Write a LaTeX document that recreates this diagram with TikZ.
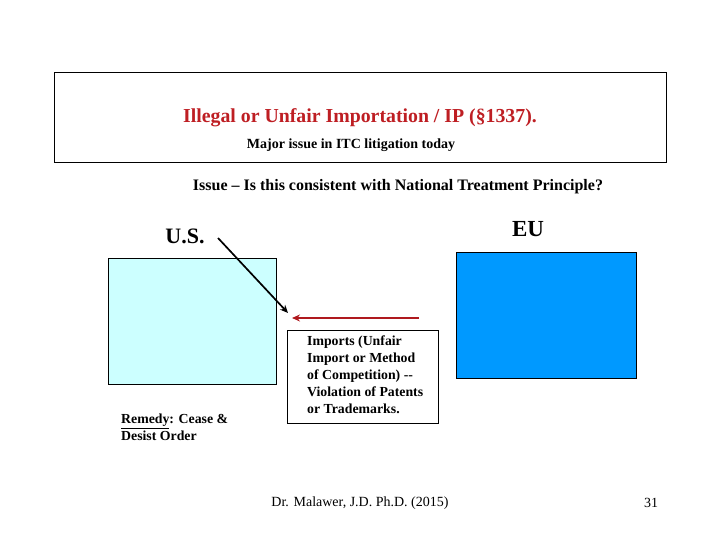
\documentclass[tikz,border=0pt]{standalone}
\usepackage{fontspec}
\setmainfont{Liberation Serif}
\usetikzlibrary{arrows.meta}
\definecolor{titlered}{RGB}{190,30,35}
\definecolor{arrred}{RGB}{175,25,30}
\definecolor{lightcyan}{RGB}{204,255,255}
\definecolor{eublue}{RGB}{0,153,255}
\tikzset{
  frame/.style={draw=black, line width=0.8pt},
  txt/.style={inner sep=0pt, font=\bfseries},
  arr/.style={line width=1.7pt, -{Stealth[length=8pt,width=7pt]}}
}
\begin{document}
\begin{tikzpicture}[x=1pt,y=-1pt]
\useasboundingbox (0,0) rectangle (720,540);
% top box
\draw[frame] (54,72) rectangle (666,162);
\node[txt, text=titlered, font=\bfseries\fontsize{19.8}{22}\selectfont] (title) at (360,118) {Illegal or Unfair Importation / IP (§1337).};
\node[txt, font=\bfseries\fontsize{14}{16}\selectfont] (major) at (351,145) {Major issue in ITC litigation today};
\node[txt, font=\bfseries\fontsize{16}{18}\selectfont] (issue) at (398,187) {Issue -- Is this consistent with National Treatment Principle?};
% labels
\node[txt, font=\bfseries\fontsize{22}{24}\selectfont] (us) at (185,236) {U.S.};
\node[txt, font=\bfseries\fontsize{23}{25}\selectfont] (eu) at (528,229) {EU};
% boxes
\draw[frame, fill=lightcyan] (108,258) rectangle (276,384);
\node (usbox) at (192,321) {};
\draw[frame, fill=eublue] (456,252) rectangle (636,378);
\node (eubox) at (546,315) {};
% imports box
\node[draw=black, line width=0.8pt, inner sep=0pt, minimum width=151pt, minimum height=93pt] (imp) at (362.5,376.5) {};
\node[anchor=north west, inner sep=0pt, align=left, font=\bfseries\fontsize{13.8}{17}\selectfont] (imptxt) at (307,336) {Imports (Unfair\\Import or Method\\of Competition) -{}-\\Violation of Patents\\or Trademarks.};
% remedy
\node[anchor=north west, inner sep=0pt, align=left, font=\bfseries\fontsize{13.8}{17}\selectfont] (remedy) at (121,414) {\underline{Remedy}: Cease \&\\Desist Order};
% arrows
\coordinate (a1s) at (218,238);
\coordinate (a1e) at (288,313);
\draw[arr, black] (a1s) -- (a1e);
\coordinate (a2s) at (419,318);
\coordinate (a2e) at (292,318);
\draw[arr, arrred] (a2s) -- (a2e);
% footer
\node[inner sep=0pt, font=\fontsize{14}{16}\selectfont] (footer) at (360,503) {Dr. Malawer, J.D. Ph.D. (2015)};
\node[inner sep=0pt, font=\fontsize{14}{16}\selectfont] (page) at (651,503) {31};
\end{tikzpicture}
\end{document}
